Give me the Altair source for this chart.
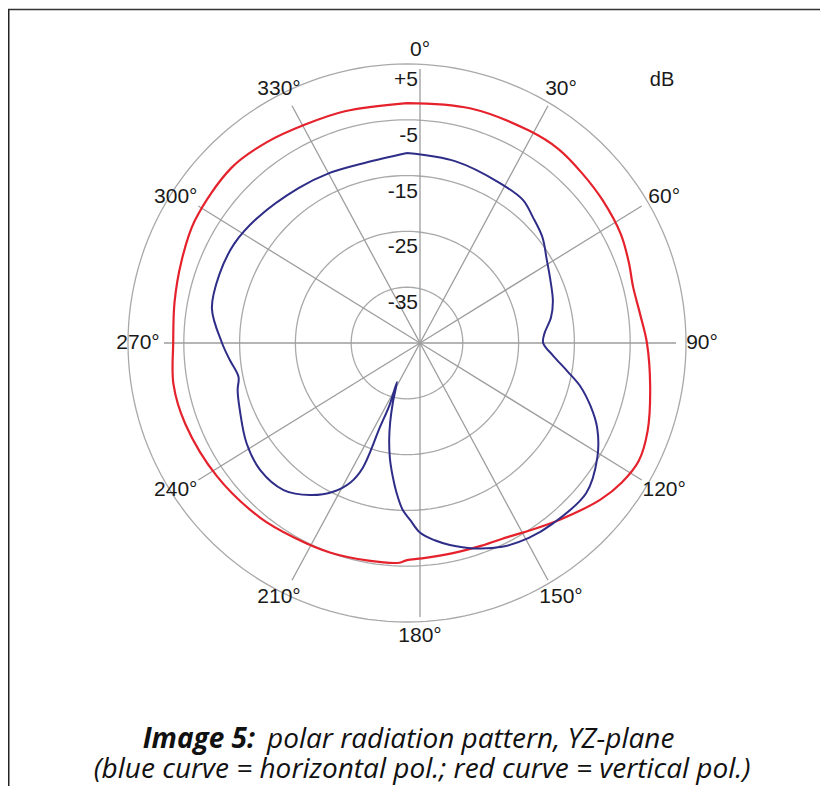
import altair as alt
import pandas as pd
import numpy as np

# ---------------- data ----------------
ring_db = [5, -5, -15, -25, -35]
ring_labels = ["+5", "-5", "-15", "-25", "-35"]
spoke_angles = [0, 30, 60, 90, 120, 150, 180, 210, 240, 270, 300, 330]
angle_labels = ["0°", "30°", "60°", "90°", "120°", "150°", "180°", "210°", "240°", "270°", "300°", "330°"]

# vertical polarisation (red)
red_angle = [0, 15, 30, 38, 46, 54, 63, 70, 76, 83, 90, 100, 110, 117, 123, 129, 139, 146,
             152, 160, 168, 176, 180, 182, 190, 200, 210, 220, 235, 250, 260, 270, 280,
             290, 300, 315, 325, 335, 345, 360]
red_db = [-2.0, -1.45, -1.1, -0.9, -1.3, -1.6, -2.0, -2.7, -3.25, -2.9, -2.0, -0.75, 0.9, 1.6,
          0.9, -0.4, -3.1, -4.7, -5.75, -6.3, -6.45, -6.3, -6.1, -5.6, -5.4, -5.0, -4.7, -4.1,
          -3.4, -2.7, -2.5, -3.1, -2.7, -2.0, -1.1, -0.55, -1.1, -1.8, -2.0, -2.0]

# horizontal polarisation (blue)
blue_angle = [0, 15, 30, 39, 45, 52, 59, 66, 74, 80, 86, 90, 95, 100, 104, 109, 114, 121, 130,
              141, 148, 155, 162, 168, 172, 176, 179, 181.5, 184, 186, 188.5, 190.5, 192,
              193.3, 194.4, 195.7, 197.8, 199.5, 202, 206.4, 212.5, 220, 229, 238, 248,
              254.5, 258.6, 264.5, 270, 280, 290, 300, 310, 325, 335, 347, 360]
blue_db = [-10.95, -11.3, -11.85, -12.0, -13.1, -14.2, -15.8, -16.9, -17.8, -18.8, -20.3, -20.6,
           -18.7, -15.8, -13.0, -10.2, -7.7, -5.2, -3.1, -3.4, -3.8, -4.7, -6.3, -8.0, -9.3,
           -10.9, -13.3, -15.1, -18.1, -20.8, -24.2, -27.5, -30.5, -33.9, -37.8, -33.5, -29.2,
           -21.3, -18.1, -15.25, -12.7, -10.6, -10.2, -11.1, -12.7, -13.5, -14.2, -13.1,
           -11.85, -9.5, -9.2, -9.3, -10.05, -11.1, -11.5, -11.85, -10.95]

caption_bold = "Image 5:"
caption_rest = "polar radiation pattern, YZ-plane"
caption_line2 = "(blue curve = horizontal pol.; red curve = vertical pol.)"
unit_label = "dB"

# ---------------- layout ----------------
W, H = 812, 778          # drawing area (page minus 8px margin)
CX, CY = 399, 335        # centre of the rings inside the drawing area (px)
PX = 5.58                # pixels per dB
DB0 = -45                # dB value at the centre
SPOKE_DX = 13            # spokes / angle labels are drawn slightly right of ring centre

xs = alt.Scale(domain=[-CX / PX, (W - CX) / PX], nice=False, zero=False)
ys = alt.Scale(domain=[-(H - CY) / PX, CY / PX], nice=False, zero=False)

GRID_RING = "#a9a9a9"
GRID_SPOKE = "#9d9d9d"
RED = "#e5222c"
BLUE = "#2e2d88"
LABEL_FONT = "Liberation Sans"

# rings
theta = np.arange(0, 362, 2)
ring_df = pd.DataFrame(
    [(d, t, i) for d in ring_db for i, t in enumerate(theta)],
    columns=["db", "ang", "i"],
)
rings = alt.Chart(ring_df).transform_calculate(
    R=f"datum.db - ({DB0})",
    x="datum.R * sin(datum.ang * PI / 180)",
    y="datum.R * cos(datum.ang * PI / 180)",
).mark_line(color=GRID_RING, strokeWidth=1.3).encode(
    x=alt.X("x:Q", scale=xs, axis=None),
    y=alt.Y("y:Q", scale=ys, axis=None),
    detail="db:N",
    order="i:Q",
)

# spokes
spoke_df = pd.DataFrame({"ang": spoke_angles, "lab": angle_labels})
SX, SY = 256 / PX, 274 / PX
spokes = alt.Chart(spoke_df).transform_calculate(
    x0="0", y0="0",
    x1=f"{SX} * sin(datum.ang * PI / 180)",
    y1=f"{SY} * cos(datum.ang * PI / 180)",
).mark_rule(color=GRID_SPOKE, strokeWidth=1.3, xOffset=SPOKE_DX, x2Offset=SPOKE_DX).encode(
    x=alt.X("x0:Q", scale=xs, axis=None),
    y=alt.Y("y0:Q", scale=ys, axis=None),
    x2="x1:Q",
    y2="y1:Q",
)

# angle labels
LX, LY = 282 / PX, 293 / PX
angle_text = alt.Chart(spoke_df).transform_calculate(
    x=f"{LX} * sin(datum.ang * PI / 180)",
    y=f"{LY} * cos(datum.ang * PI / 180)",
).mark_text(font=LABEL_FONT, fontSize=21, color="#1a1a1a", align="center",
            baseline="middle", dx=SPOKE_DX).encode(
    x=alt.X("x:Q", scale=xs, axis=None),
    y=alt.Y("y:Q", scale=ys, axis=None),
    text="lab:N",
)

# dB labels along the 0° spoke
db_df = pd.DataFrame({"db": ring_db, "lab": ring_labels})
db_text = alt.Chart(db_df).transform_calculate(
    x="0",
    y=f"datum.db - ({DB0}) - {16 / PX}",
).mark_text(font=LABEL_FONT, fontSize=21, color="#1a1a1a", align="right",
            baseline="middle", dx=11).encode(
    x=alt.X("x:Q", scale=xs, axis=None),
    y=alt.Y("y:Q", scale=ys, axis=None),
    text="lab:N",
)


def curve(angles, dbs, color, width):
    df = pd.DataFrame({"ang": angles, "db": dbs, "i": range(len(angles))})
    return alt.Chart(df).transform_calculate(
        R=f"datum.db - ({DB0})",
        x="datum.R * sin(datum.ang * PI / 180)",
        y="datum.R * cos(datum.ang * PI / 180)",
    ).mark_line(color=color, strokeWidth=width, interpolate="catmull-rom").encode(
        x=alt.X("x:Q", scale=xs, axis=None),
        y=alt.Y("y:Q", scale=ys, axis=None),
        order="i:Q",
    )


red_line = curve(red_angle, red_db, RED, 2.2)
blue_line = curve(blue_angle, blue_db, BLUE, 2.0)

# unit label
unit = alt.Chart(pd.DataFrame({"t": [unit_label]})).mark_text(
    font=LABEL_FONT, fontSize=20, color="#1a1a1a", align="center", baseline="middle"
).encode(x=alt.value(654), y=alt.value(72), text="t:N")

# caption
cap_font = "Open Sans"
CAP_SIZE = 28
cap1a = alt.Chart(pd.DataFrame({"t": [caption_bold]})).mark_text(
    font=cap_font, fontSize=CAP_SIZE, fontStyle="italic", fontWeight="bold", color="#111",
    align="right", baseline="middle"
).encode(x=alt.value(247), y=alt.value(732), text="t:N")
cap1b = alt.Chart(pd.DataFrame({"t": [caption_rest]})).mark_text(
    font=cap_font, fontSize=CAP_SIZE, fontStyle="italic", color="#111",
    align="left", baseline="middle"
).encode(x=alt.value(259), y=alt.value(732), text="t:N")
cap2 = alt.Chart(pd.DataFrame({"t": [caption_line2]})).mark_text(
    font=cap_font, fontSize=CAP_SIZE, fontStyle="italic", color="#111",
    align="center", baseline="middle"
).encode(x=alt.value(414), y=alt.value(762), text="t:N")

# frame lines
one = pd.DataFrame({"k": [0]})
frame_top = alt.Chart(one).mark_rule(color="#333", strokeWidth=1.5).encode(
    x=alt.value(0), x2=alt.value(W), y=alt.value(1.5))
frame_left = alt.Chart(one).mark_rule(color="#222", strokeWidth=1.5).encode(
    x=alt.value(0.75), y=alt.value(1.5), y2=alt.value(H))

chart = alt.layer(
    rings, spokes, red_line, blue_line, db_text, angle_text, unit,
    cap1a, cap1b, cap2, frame_top, frame_left,
).properties(
    width=W, height=H, padding=0,
    autosize=alt.AutoSizeParams(type="none"),
    background="white",
).configure_view(stroke=None)

chart.save("out.html", embed_options={"renderer": "svg", "actions": False})
